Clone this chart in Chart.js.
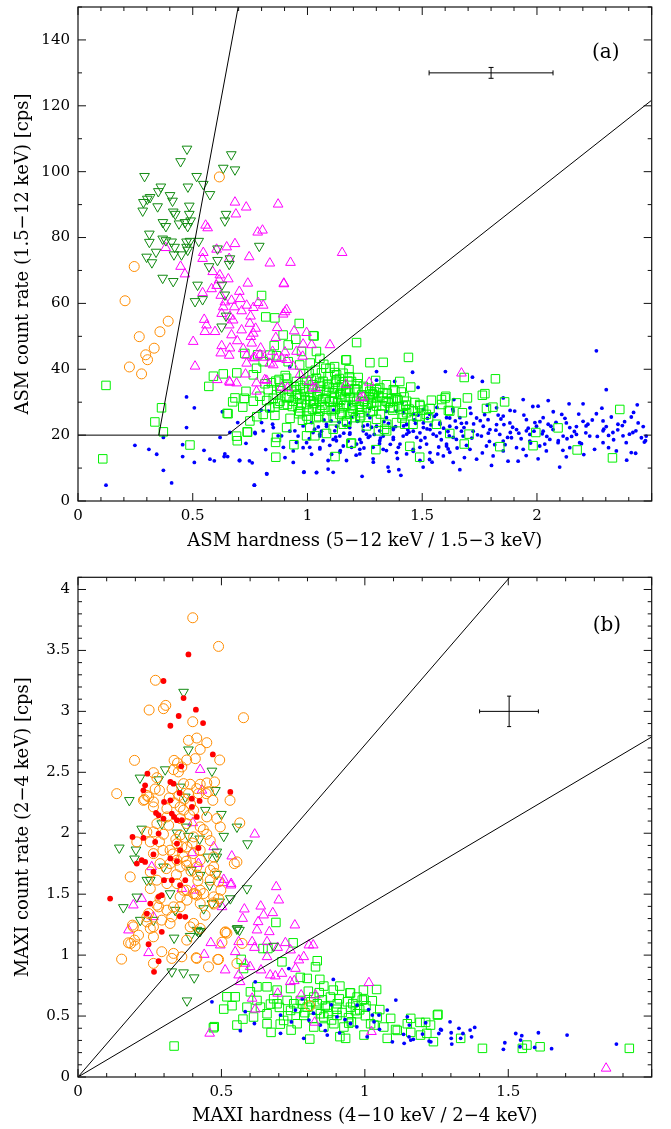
<!DOCTYPE html>
<html>
<head>
<meta charset="utf-8">
<script src="https://cdn.jsdelivr.net/npm/chart.js@4.4.1/dist/chart.umd.min.js"></script>
<style>
  html, body { margin: 0; padding: 0; background: #fff; }
  .panel { position: absolute; left: 0; width: 671px; }
  #wrapA { top: 0; height: 560px; }
  #wrapB { top: 560px; height: 569px; }
  canvas { display: block; }
</style>
</head>
<body>
<div class="panel" id="wrapA"><canvas id="asmChart" width="671" height="560"></canvas></div>
<div class="panel" id="wrapB"><canvas id="maxiChart" width="671" height="569"></canvas></div>
<script>
// ---- tick labels ----
const asmHardTicks = [0, 0.5, 1, 1.5, 2];
const asmRateTicks = [0, 20, 40, 60, 80, 100, 120, 140];
const maxiHardTicks = [0, 0.5, 1, 1.5];
const maxiRateTicks = [0, 0.5, 1, 1.5, 2, 2.5, 3, 3.5, 4];

// ---- panel (a): ASM, pairs of [hardness, rate] ----
const asmOrange = [0.245,71.2, 0.205,60.8, 0.267,49.9, 0.357,51.4, 0.393,54.6, 0.332,46.4, 0.295,44.4, 0.303,42.9, 0.224,40.7, 0.277,38.6, 0.616,98.4];

const asmDarkGreen = [0.475,106.9, 0.447,103.1, 0.668,105.2, 0.633,101.1, 0.684,100.6, 0.290,98.6, 0.517,98.6, 0.546,96.2, 0.479,95.4, 0.361,95.4,
  0.350,94.0, 0.575,93.1, 0.314,92.2, 0.302,91.7, 0.401,92.8, 0.412,91.1, 0.285,90.7, 0.282,88.1, 0.347,89.4, 0.485,89.6,
  0.415,87.8, 0.424,87.1, 0.485,87.1, 0.645,87.1, 0.640,85.1, 0.370,84.6, 0.383,83.4, 0.440,84.2, 0.466,84.6, 0.478,83.4,
  0.491,85.1, 0.311,81.1, 0.311,78.6, 0.369,79.6, 0.383,79.1, 0.408,78.7, 0.473,78.7, 0.488,78.9, 0.526,78.9, 0.421,77.1,
  0.473,77.1, 0.478,76.2, 0.340,75.6, 0.299,74.1, 0.322,72.4, 0.418,74.8, 0.451,74.8, 0.608,76.6, 0.608,73.1, 0.662,73.6,
  0.659,71.9, 0.790,77.4, 0.571,71.2, 0.369,67.7, 0.415,66.7, 0.521,65.6, 0.640,62.6, 0.627,65.6, 0.510,60.6, 0.543,61.2,
  0.645,56.2, 0.626,52.9];

const asmMagenta = [0.684,90.7, 0.872,90.1, 0.733,89.2, 0.688,87.1, 0.556,83.7, 0.565,82.9, 0.783,81.6, 0.804,82.2, 0.684,78.1, 0.382,76.9,
  0.604,76.4, 0.648,77.1, 0.546,75.4, 0.543,73.6, 0.746,74.1, 0.659,73.6, 0.836,72.2, 0.926,72.4, 0.447,71.2, 0.466,68.9,
  0.587,69.6, 0.618,68.6, 0.655,67.4, 0.615,67.1, 0.740,66.1, 0.897,66.1, 0.582,64.4, 0.604,65.4, 0.622,62.4, 0.543,63.2,
  0.703,63.6, 0.669,60.9, 0.706,61.4, 0.640,60.4, 0.785,60.2, 0.735,59.4, 0.633,58.9, 0.681,58.9, 0.764,58.7, 0.807,59.4,
  0.909,58.1, 0.894,56.7, 0.713,57.7, 0.626,56.9, 0.662,56.1, 0.752,56.1, 0.550,55.1, 0.676,54.9, 0.749,53.9, 0.560,53.4,
  0.659,53.4, 0.713,51.9, 0.774,52.4, 0.553,51.4, 0.597,51.4, 0.669,50.4, 0.764,50.9, 0.942,51.6, 0.996,51.1, 0.694,48.6,
  0.757,47.9, 0.502,48.4, 0.626,47.1, 0.662,46.4, 0.720,46.2, 0.796,46.4, 0.848,45.4, 0.622,44.9, 0.659,44.2, 0.735,44.2,
  0.771,43.6, 0.813,43.6, 0.981,47.6, 1.098,47.4, 0.510,40.9, 0.607,36.8, 0.659,36.3, 0.735,41.8, 0.851,41.3, 0.865,43.2,
  0.778,35.8, 0.814,36.8, 0.909,42.9, 0.938,40.9, 0.979,43.9, 1.018,47.4, 1.025,34.3, 0.897,65.9, 0.902,57.4, 0.952,45.4,
  0.902,45.2, 0.822,36.6, 0.662,36.0, 0.730,38.5, 0.691,35.8, 0.888,34.5, 0.913,34.3, 0.967,38.4, 1.007,36.3, 1.037,34.2,
  1.167,35.4, 1.269,36.0, 1.231,31.3, 1.243,31.5, 0.868,52.6, 0.862,49.6, 0.753,49.9, 0.793,44.4, 0.764,43.4, 0.778,33.3,
  0.887,43.4, 0.836,41.8, 1.671,38.8, 1.151,75.4];

const asmGreen = [0.964,53.9, 0.858,55.6, 0.894,50.4, 0.949,49.1, 1.029,50.1, 1.214,48.1, 1.170,42.9, 1.272,42.0, 1.330,42.1, 1.440,43.6,
  0.836,44.3, 0.727,44.8, 0.916,47.4, 0.974,45.4, 1.039,45.4, 1.054,43.3, 1.080,40.3, 1.119,39.0, 1.155,38.8, 1.221,37.5,
  1.297,36.6, 1.402,36.3, 1.450,34.6, 1.374,33.8, 1.409,33.1, 1.489,29.3, 1.540,30.6, 1.584,30.8, 1.603,31.8, 1.620,27.3,
  1.649,29.8, 1.562,23.3, 1.489,13.3, 1.446,16.6, 1.298,15.6, 1.120,13.5, 1.189,17.5, 1.032,19.8, 1.083,20.5, 0.996,19.8,
  0.941,17.1, 0.865,19.3, 0.862,13.3, 0.737,21.0, 0.694,18.3, 0.650,26.6, 0.674,30.1, 0.684,31.3, 0.718,28.5, 0.732,33.3,
  0.764,30.3, 0.779,25.6, 0.822,30.5, 0.858,26.0, 0.858,28.5, 0.909,22.3, 0.913,29.3, 0.959,28.3, 0.978,24.5, 1.007,27.3,
  1.054,30.3, 1.083,25.3, 1.141,26.3, 1.228,26.8, 1.301,28.8, 1.344,30.3, 1.374,28.3, 1.432,30.3, 1.432,26.8, 1.170,24.3,
  1.257,22.8, 1.336,21.8, 1.518,26.3, 1.460,23.3, 1.112,21.8, 1.010,22.3, 0.778,40.3, 0.807,42.3, 0.916,42.3, 0.966,41.3,
  1.007,38.8, 0.952,36.3, 0.909,37.3, 0.880,34.3, 0.931,33.3, 0.981,34.3, 1.024,35.3, 1.068,36.3, 1.112,34.3, 1.148,35.3,
  1.184,32.8, 1.214,33.8, 1.272,33.3, 1.315,34.3, 1.286,31.3, 1.214,30.3, 1.170,29.3, 1.112,30.3, 1.054,33.3, 1.010,31.8,
  0.966,31.3, 0.909,31.3, 0.865,32.3, 0.829,33.8, 0.793,31.8, 0.952,33.8, 0.996,36.3, 1.039,37.3, 1.090,37.8, 1.126,36.8,
  1.192,36.3, 1.243,34.8, 1.344,35.3, 1.301,33.8, 1.388,31.3, 1.417,28.8, 1.257,28.3, 1.199,27.3, 1.039,28.3, 0.996,29.3,
  0.938,30.3, 0.880,30.3, 0.836,28.3, 0.807,26.3, 0.749,24.3, 1.054,27.3, 1.112,28.3, 1.141,32.3, 1.083,33.3, 1.024,30.3,
  0.966,27.3, 1.039,25.3, 0.996,25.8,
  1.167,42.8, 1.683,37.5, 1.819,37.1, 1.182,37.7, 1.697,31.3, 1.762,32.1, 1.773,32.6, 1.859,30.1, 1.780,28.1, 1.808,28.5,
  1.600,31.3, 1.585,29.3, 1.614,27.5, 1.491,28.9, 1.534,28.1, 1.675,26.8, 1.491,25.8, 1.528,25.3, 1.620,20.5, 1.704,20.3,
  1.995,20.8, 2.092,22.2, 2.361,27.8, 2.329,13.1, 2.175,15.5, 1.983,16.8, 1.838,16.5, 1.683,17.3, 1.192,17.6, 1.301,24.8,
  1.345,23.3, 1.388,23.8, 1.424,23.3, 1.345,21.3, 1.309,21.3, 1.286,27.3, 1.359,28.3, 1.417,26.3, 1.461,27.3, 1.243,30.3,
  1.286,32.3, 1.330,31.3, 1.374,30.3, 1.170,33.3, 1.119,31.3, 1.141,28.3, 1.184,26.3, 1.228,25.3, 1.112,25.3, 1.156,23.3,
  1.098,40.3, 1.127,38.3, 1.156,35.3, 1.257,34.3,
  0.122,35.1, 0.108,12.8, 0.364,28.3, 0.335,24.0, 0.372,21.0, 0.488,17.0, 0.570,34.8, 0.654,26.5, 0.691,19.7, 0.739,20.9,
  0.800,62.4, 0.818,55.9, 1.025,50.2, 0.855,47.2, 0.865,44.1, 0.783,44.4, 0.692,38.9, 0.633,38.6, 0.590,37.9, 0.764,38.3,
  0.815,35.6, 0.725,31.2, 0.861,17.8,
  0.883,33.5, 0.912,35.2, 0.934,28.7, 0.951,31.9, 0.973,29.6, 0.987,33.1, 1.013,30.4, 1.022,27.9, 1.041,31.7, 1.052,35.8,
  1.063,29.1, 1.078,31.2, 1.093,34.6, 1.104,27.4, 1.117,32.8, 1.131,29.9, 1.139,37.2, 1.152,26.8, 1.163,31.5, 1.178,33.9,
  1.194,28.2, 1.203,30.9, 1.218,35.6, 1.232,25.9, 1.241,31.8, 1.262,29.4, 1.274,27.1, 1.283,32.6, 1.302,30.1, 1.318,26.4,
  1.329,32.9, 1.352,29.8, 1.371,27.6, 1.393,30.7, 1.412,25.2, 1.428,29.1, 0.983,38.6, 1.034,39.7, 0.903,38.1, 0.862,36.4,
  1.071,41.5, 1.122,36.1, 0.962,26.5, 1.004,24.8, 1.049,25.6, 1.171,23.9, 1.209,25.3, 0.924,25.1, 0.871,29.6, 0.843,35.9,
  0.957,32.4, 0.968,35.1, 0.991,30.8, 1.006,33.9, 1.017,36.7, 1.028,29.6, 1.046,32.3, 1.058,34.9, 1.067,31.1, 1.076,28.4,
  1.086,35.5, 1.097,30.2, 1.108,32.9, 1.121,27.8, 1.133,34.3, 1.145,30.6, 1.158,28.9, 1.166,33.6, 1.176,36.4, 1.187,31.4,
  1.198,29.1, 1.207,34.1, 1.226,28.7, 1.236,32.2, 1.248,30.1, 1.268,31.6, 1.279,29.7, 1.292,33.1, 1.311,31.9, 1.326,28.9,
  1.347,32.7, 1.366,31.1, 1.381,33.4, 1.398,28.6, 1.421,31.6, 1.443,27.9, 1.468,29.9, 1.476,25.6, 1.506,27.6, 0.942,34.7,
  0.921,31.5, 0.897,29.1, 0.876,36.9, 0.851,31.2, 1.012,41.9, 1.061,38.9, 1.118,40.8, 1.181,39.9];

const asmBlue = [0.122,4.8, 0.248,16.9, 0.309,15.7, 0.343,14.2, 0.372,19.3, 0.372,9.3, 0.408,5.5, 0.473,31.6, 0.473,22.3, 0.456,17.1,
  0.456,13.5, 0.507,28.3, 0.507,11.7, 0.549,15.4, 0.575,12.7, 0.594,12.2, 0.619,19.3, 0.629,27.1, 0.637,13.5, 0.652,13.5,
  0.662,20.8, 0.696,23.8, 0.703,12.3, 0.732,17.5, 0.747,12.2, 0.769,4.8, 0.772,20.5, 0.798,27.6, 0.818,15.6, 0.823,8.2,
  0.830,27.3, 0.848,23.3, 0.887,19.8, 0.895,16.3, 0.902,13.2, 0.938,15.2, 0.938,11.7, 0.945,21.3, 0.984,8.7, 0.996,17.7,
  1.018,14.2, 1.040,8.7, 1.054,16.2, 1.061,21.2, 1.090,9.7, 1.105,14.2, 1.112,8.7, 0.981,16.2, 0.959,19.7, 0.923,21.2,
  1.018,23.8, 1.054,19.7, 1.112,18.7, 1.083,22.7, 0.923,40.8,
  1.301,39.3, 1.458,39.1, 1.482,34.5, 1.380,36.3, 0.822,8.3, 0.768,4.8, 0.985,8.8, 1.039,8.6, 1.238,7.5, 1.407,7.8,
  1.351,10.3, 1.286,12.8, 1.228,14.3, 1.170,12.3, 1.090,12.3, 1.141,14.8, 1.054,15.8, 1.010,16.3, 0.952,17.8, 0.872,19.8,
  0.807,21.3, 0.771,20.8, 0.705,12.3, 0.759,11.6, 0.640,14.3, 0.800,23.8, 0.851,22.3, 0.981,22.8, 1.024,20.8, 1.068,18.3,
  1.126,18.3, 1.184,20.3, 1.214,17.3, 1.265,19.3, 1.315,18.3, 1.374,19.3, 1.403,17.3, 1.432,20.3, 1.476,19.3, 1.519,17.3,
  1.548,20.3, 1.606,17.3, 1.635,19.3, 1.649,22.3, 1.577,23.3, 1.505,22.3, 1.432,23.3, 1.374,22.3, 1.315,21.3, 1.243,21.3,
  1.184,22.3, 1.119,21.3, 1.083,23.3, 1.054,20.3, 1.272,25.3, 1.344,25.3, 1.461,26.3, 1.533,26.3, 1.606,25.3, 1.635,27.3,
  1.286,16.3, 1.344,15.3, 1.432,14.3, 1.490,12.3, 1.568,14.3, 1.620,14.8, 1.543,11.8, 1.192,16.3, 1.257,20.3, 1.490,16.3,
  1.504,10.3,
  2.259,45.6, 2.302,33.8, 2.437,29.2, 2.473,18.3, 1.719,37.6, 1.762,36.3, 1.638,30.8, 1.601,39.3, 1.301,36.7, 1.664,9.5,
  1.802,10.8, 1.874,12.1, 1.918,12.1, 2.099,10.3, 2.005,12.8, 2.128,13.4, 2.346,15.2, 2.411,14.7, 2.430,14.5, 1.355,9.0,
  1.398,9.5, 1.287,11.8,
  1.853,25.8, 1.903,27.3, 1.940,30.8, 2.005,28.8, 2.049,30.5, 2.140,29.5, 2.201,29.5, 2.259,26.5, 2.324,25.5, 2.411,25.5,
  2.108,26.3, 2.049,23.3, 2.143,22.3, 2.214,22.8, 2.288,21.3, 2.331,20.8, 2.375,19.8, 2.418,20.8, 2.114,19.7, 2.172,20.2,
  2.230,19.7, 2.027,21.2, 1.969,20.2, 1.911,21.7, 1.889,19.2, 1.838,20.2, 1.795,21.7, 1.758,19.7, 1.722,21.2, 1.693,23.7,
  1.737,25.2, 1.787,24.7, 1.824,23.2, 1.882,23.7, 1.954,24.7, 1.998,22.7, 2.070,21.7, 2.092,17.7, 2.012,16.7, 1.940,15.7,
  1.853,15.2, 1.780,16.7, 1.708,15.7, 1.649,18.7, 1.606,16.7, 1.562,19.7, 1.534,21.7, 1.577,23.7, 1.620,25.2, 1.505,23.7,
  1.461,21.2, 1.417,19.7, 1.374,18.7, 1.330,19.7, 1.272,19.7, 1.228,18.7, 1.185,20.7, 1.141,19.7, 1.156,16.7, 1.228,15.7,
  1.330,15.7, 1.388,14.7, 1.461,15.7, 1.534,14.7, 1.592,13.7, 1.635,11.7, 1.737,12.7, 1.809,13.7, 1.911,16.2, 2.041,15.2,
  2.186,17.7, 2.288,17.7, 2.251,15.7, 2.143,16.2, 1.969,18.2, 2.056,18.7, 2.201,24.2, 2.128,23.7, 2.353,23.3, 2.455,19.2,
  2.476,19.7, 2.389,17.7, 1.708,28.3, 1.664,25.3, 1.853,31.3, 1.824,28.3, 2.027,25.3, 1.954,21.3, 2.288,24.3, 1.185,23.7,
  1.243,22.7, 1.301,22.7, 1.374,21.7, 1.432,23.2, 1.490,20.7, 1.577,20.7, 1.620,22.7, 1.678,19.7, 1.766,22.7, 1.853,18.2,
  1.127,22.7, 1.214,26.3, 1.388,27.3, 1.505,27.8, 1.562,26.3,
  1.031,21.8, 1.072,24.6, 1.123,19.4, 1.164,22.9, 1.192,25.4, 1.234,17.8, 1.262,23.1, 1.291,20.2, 1.333,24.1, 1.361,17.2,
  1.384,22.6, 1.418,26.8, 1.442,20.9, 1.471,23.6, 1.494,18.4, 1.521,21.9, 1.553,25.7, 1.572,16.4, 1.593,22.1, 1.618,19.8,
  1.644,24.3, 1.671,21.2, 1.693,16.9, 1.724,23.4, 1.741,20.1, 1.772,26.2, 1.793,18.1, 1.821,21.5, 1.843,24.9, 1.872,19.3,
  1.894,22.4, 1.921,20.6, 1.943,26.1, 1.972,17.6, 1.991,23.8, 2.023,20.4, 2.061,22.7, 2.093,18.3, 2.122,25.1, 2.163,21.1,
  2.194,17.4, 2.222,23.3, 2.263,19.6, 2.291,21.8, 2.334,18.6, 2.372,22.9, 2.403,20.3, 2.441,23.7, 2.468,17.9, 1.143,15.3,
  1.212,13.9, 1.314,17.4, 1.392,12.9, 1.461,15.1, 1.532,12.6, 1.613,15.8, 1.684,13.2, 1.762,14.6, 1.861,17.1, 1.953,13.8,
  2.034,17.3, 2.113,15.4, 2.204,14.1, 2.312,16.2, 2.391,12.4, 1.114,27.6, 1.182,29.4, 1.271,28.1, 1.343,27.2, 1.412,29.8,
  1.482,26.1, 1.564,28.4, 1.633,27.9, 1.712,26.6, 1.784,29.1, 1.883,27.5, 1.982,28.7, 2.071,27.1, 2.182,26.4, 2.283,28.2,
  2.421,26.9,
  1.008,18.9, 1.047,22.5, 1.097,16.9, 1.138,23.9, 1.177,18.2, 1.218,24.2, 1.246,16.1, 1.279,22.4, 1.318,19.1, 1.353,23.6,
  1.396,16.3, 1.437,21.6, 1.466,24.6, 1.512,19.2, 1.538,23.1, 1.583,18.6, 1.612,21.1, 1.652,16.1, 1.682,22.3, 1.716,19.1,
  1.753,24.4, 1.788,20.6, 1.816,17.1, 1.856,23.2, 1.884,20.8, 1.931,18.9, 1.962,22.1, 2.013,24.1, 2.043,19.6, 2.083,23.9,
  2.131,18.9, 2.172,22.6, 2.213,20.7, 2.241,24.6, 2.302,22.6, 2.352,21.6, 2.382,24.1, 2.431,21.3, 2.463,22.6, 1.103,24.3,
  1.158,20.6, 1.263,26.1, 1.419,22.8, 1.523,25.1, 1.671,23.6, 1.831,26.1, 1.987,21.2, 2.151,19.6, 2.312,19.9];

// boundary lines and error bar of panel (a)
const asmLowLine = [0,20, 0.65,20, 2.5,121.7];
const asmSteepLine = [0.352,20, 0.698,150];
const asmErrX = [1.53,130, 2.07,130];
const asmErrY = [1.80,128.35, 1.80,131.65];

// ---- panel (b): MAXI ----
const maxiOrange = [0.400,3.768, 0.490,3.533, 0.270,3.255, 0.248,3.011, 0.298,3.022, 0.306,3.049, 0.400,2.915, 0.577,2.948, 0.197,2.598, 0.385,2.762,
  0.414,2.781, 0.449,2.743, 0.426,2.688, 0.335,2.598, 0.347,2.576, 0.379,2.601, 0.409,2.612, 0.494,2.601, 0.263,2.497, 0.275,2.456,
  0.333,2.522, 0.362,2.544, 0.135,2.325, 0.232,2.276, 0.240,2.311, 0.269,2.363, 0.284,2.352, 0.328,2.366, 0.368,2.407, 0.391,2.402,
  0.426,2.402, 0.449,2.413, 0.476,2.421, 0.455,2.341, 0.420,2.325, 0.385,2.325, 0.470,2.270, 0.530,2.270, 0.263,2.216, 0.310,2.202,
  0.356,2.216, 0.403,2.189, 0.449,2.134, 0.484,2.120, 0.564,2.085, 0.275,2.079, 0.316,2.066, 0.379,2.079, 0.426,2.052, 0.496,2.052,
  0.240,2.011, 0.298,1.992, 0.356,1.984, 0.403,1.970, 0.449,1.992, 0.205,1.929, 0.246,2.298, 0.350,2.503, 0.414,2.366, 0.447,2.325,
  0.263,2.257, 0.228,2.270, 0.310,2.134, 0.368,2.189, 0.182,1.642, 0.263,2.011, 0.252,1.929, 0.263,1.833, 0.286,1.751, 0.321,1.861,
  0.345,1.915, 0.380,1.888, 0.403,1.833, 0.368,1.806, 0.426,1.861, 0.321,1.751, 0.356,1.724, 0.414,1.724, 0.252,1.683, 0.275,1.615,
  0.310,1.587, 0.252,1.546, 0.286,1.464, 0.345,1.587, 0.368,1.532, 0.380,1.451, 0.414,1.492, 0.356,1.396, 0.281,1.396, 0.240,1.314,
  0.327,1.314, 0.391,1.232, 0.263,1.232, 0.193,1.232, 0.211,1.164, 0.184,1.096, 0.461,1.697, 0.490,1.601, 0.473,1.806, 0.514,1.191,
  0.554,1.765, 0.152,0.967, 0.190,1.246, 0.197,1.123, 0.199,1.074, 0.176,1.101, 0.240,1.273, 0.252,1.219, 0.263,1.150, 0.246,1.341,
  0.275,1.410, 0.292,1.287, 0.310,1.369, 0.321,1.260, 0.327,0.973, 0.333,1.014, 0.362,0.986, 0.379,1.123, 0.403,1.260, 0.426,1.219,
  0.414,0.973, 0.455,0.904, 0.490,0.965, 0.502,1.106, 0.519,1.180, 0.263,0.932, 0.292,1.028, 0.473,1.419, 0.438,1.505, 0.356,1.478,
  0.379,1.533, 0.403,1.505, 0.426,1.533, 0.473,1.478, 0.490,1.464, 0.333,1.396, 0.345,1.779, 0.379,1.738, 0.426,1.779, 0.473,1.724,
  0.478,1.670, 0.545,1.751, 0.513,1.186, 0.487,0.964, 0.412,0.979, 0.572,1.096, 0.554,0.932, 0.808,0.585, 0.498,1.533, 0.472,1.429,
  0.417,1.656, 0.461,1.615, 0.409,1.503, 0.426,1.423, 0.443,1.328, 0.352,2.31, 0.371,2.28, 0.392,2.24, 0.336,2.25, 0.318,2.29,
  0.357,2.12, 0.389,2.15, 0.341,1.95, 0.362,1.89, 0.398,1.92, 0.331,1.83, 0.377,1.77, 0.394,1.69, 0.343,1.66, 0.308,1.71,
  0.418,1.61, 0.296,1.86, 0.284,1.93, 0.437,2.03, 0.461,1.94];

const maxiRed = [0.385,3.467, 0.298,3.249, 0.368,3.109, 0.411,3.014, 0.351,2.962, 0.436,2.904, 0.322,2.882, 0.470,2.647, 0.360,2.549, 0.242,2.489,
  0.228,2.352, 0.234,2.393, 0.322,2.421, 0.333,2.407, 0.300,2.257, 0.531,2.339, 0.354,2.330, 0.322,2.270, 0.397,2.284, 0.424,2.265,
  0.272,2.167, 0.281,2.148, 0.327,2.161, 0.335,2.134, 0.345,2.107, 0.362,2.107, 0.298,2.120, 0.414,2.134, 0.397,2.216, 0.190,1.970,
  0.228,1.962, 0.281,1.997, 0.269,1.929, 0.345,1.915, 0.420,1.879, 0.356,1.861, 0.322,1.793, 0.345,1.771, 0.205,1.751, 0.222,1.779,
  0.234,1.765, 0.263,1.683, 0.327,1.615, 0.356,1.574, 0.374,1.615, 0.292,1.492, 0.281,1.478, 0.252,1.423, 0.240,1.341, 0.374,1.314,
  0.292,1.191, 0.246,1.090, 0.112,1.464, 0.263,1.826, 0.281,0.950, 0.265,0.863, 0.355,1.319, 0.300,1.615];

const maxiDarkGreen = [0.368,3.158, 0.385,2.685, 0.467,2.511, 0.304,2.522, 0.216,2.454, 0.281,2.440, 0.179,2.270, 0.479,2.352, 0.356,2.380, 0.374,2.298,
  0.444,2.189, 0.500,2.156, 0.554,2.052, 0.508,1.976, 0.144,1.880, 0.222,2.035, 0.202,1.864, 0.197,1.790, 0.591,1.915, 0.484,1.847,
  0.484,1.806, 0.452,1.806, 0.385,1.976, 0.424,1.954, 0.345,2.003, 0.292,2.079, 0.377,2.052, 0.484,1.664, 0.459,1.574, 0.589,1.546,
  0.494,1.437, 0.467,1.423, 0.438,1.382, 0.531,1.464, 0.554,1.215, 0.426,1.196, 0.391,1.155, 0.335,1.141, 0.158,1.391, 0.205,1.478,
  0.252,1.615, 0.321,1.505, 0.339,1.369, 0.263,1.287, 0.217,1.287, 0.395,1.697, 0.426,1.656, 0.298,1.724, 0.240,1.615, 0.327,0.864,
  0.368,0.856, 0.405,0.815, 0.380,0.626, 0.556,1.219, 0.682,1.074, 0.414,1.205, 0.563,1.205, 0.420,1.190];

const maxiMagenta = [0.691,1.560, 0.700,1.451, 0.756,1.246, 0.637,1.401, 0.580,1.377, 0.574,1.300, 0.647,1.328, 0.679,1.347, 0.628,1.273, 0.624,1.205,
  0.667,1.191, 0.533,1.574, 0.504,1.593, 0.502,1.396, 0.463,1.101, 0.496,1.082, 0.440,1.005, 0.513,0.877, 0.548,1.027, 0.560,1.109,
  0.607,1.109, 0.615,1.062, 0.659,1.109, 0.696,1.062, 0.723,1.101, 0.741,1.041, 0.787,0.986, 0.805,1.082, 0.820,1.082, 0.770,0.959,
  0.758,0.890, 0.659,0.986, 0.583,0.932, 0.600,0.904, 0.638,0.877, 0.670,0.836, 0.711,0.849, 0.740,0.781, 0.754,0.789, 0.560,0.836,
  0.565,0.781, 0.688,0.828, 0.696,0.686, 0.778,0.672, 0.828,0.672, 1.014,0.773, 0.607,0.645, 0.618,0.556, 0.825,0.448, 1.023,0.372,
  0.459,0.358, 0.193,1.410, 0.176,1.205, 0.246,1.019, 0.263,1.314, 0.362,1.546, 0.426,2.522, 0.400,2.085, 0.616,1.992, 0.473,1.888,
  0.432,2.352, 0.536,1.812, 0.508,1.620, 0.534,1.587, 0.397,1.839, 0.420,1.751, 0.403,1.532, 0.257,1.724, 0.222,1.464, 1.841,0.071];

const maxiGreen = [0.690,1.268, 0.750,1.101, 0.834,0.954, 0.828,0.904, 0.569,0.965, 0.645,1.054, 0.662,1.054, 0.711,0.945, 0.577,0.890, 0.799,0.809,
  0.775,0.817, 0.843,0.801, 0.857,0.746, 0.890,0.713, 0.913,0.746, 0.948,0.691, 0.995,0.713, 1.041,0.718, 0.939,0.617, 0.997,0.637,
  1.026,0.626, 0.519,0.658, 0.548,0.658, 0.508,0.557, 0.537,0.585, 0.475,0.413, 0.575,0.475, 0.554,0.426, 0.673,0.366, 0.705,0.434,
  0.743,0.385, 0.808,0.311, 0.933,0.317, 0.913,0.331, 1.078,0.317, 0.997,0.344, 1.160,0.481, 1.192,0.448, 1.212,0.448, 1.255,0.514,
  1.216,0.358, 1.239,0.290, 1.160,0.366, 1.090,0.481, 1.043,0.492, 0.973,0.519, 0.903,0.505, 0.857,0.492, 0.787,0.505, 0.741,0.546,
  0.717,0.464, 0.659,0.519, 0.612,0.492, 0.636,0.573, 0.694,0.601, 0.752,0.601, 0.799,0.573, 0.834,0.601, 0.869,0.573, 0.904,0.601,
  0.950,0.573, 0.973,0.656, 0.880,0.656, 0.822,0.656, 0.775,0.628, 0.729,0.628, 0.682,0.642, 0.624,0.628, 0.589,0.573, 0.659,0.437,
  0.764,0.437, 0.822,0.410, 0.857,0.410, 0.892,0.437, 0.927,0.410, 1.020,0.437, 1.066,0.410, 1.113,0.382, 1.148,0.437, 0.845,0.519,
  0.741,0.726, 0.694,0.713, 0.659,0.740, 0.624,0.740, 0.601,0.699, 1.922,0.235, 1.611,0.248, 1.565,0.262, 1.549,0.235, 1.410,0.235,
  1.334,0.317, 1.253,0.508, 1.229,0.426, 1.194,0.344, 1.107,0.390, 0.950,0.689, 0.991,0.631, 0.967,0.544, 1.002,0.503, 0.944,0.442,
  1.032,0.426, 0.335,0.254, 0.472,0.404, 0.763,0.562, 0.791,0.528, 0.812,0.617, 0.833,0.548, 0.852,0.633, 0.871,0.521, 0.884,0.468,
  0.902,0.556, 0.921,0.529, 0.943,0.487, 0.958,0.602, 0.982,0.551, 0.818,0.482, 0.784,0.598, 0.862,0.583, 0.911,0.641, 0.731,0.502,
  0.702,0.571, 0.671,0.598, 0.953,0.453, 1.004,0.584, 1.052,0.553, 0.841,0.692, 0.803,0.704];

const maxiBlue = [0.467,0.617, 0.566,0.380, 0.583,0.536, 0.618,0.781, 0.735,0.890, 0.890,0.801, 1.108,0.631, 1.137,0.276, 1.160,0.303, 1.154,0.330,
  1.096,0.289, 1.026,0.508, 1.078,0.549, 1.148,0.494, 1.212,0.445, 1.264,0.390, 1.230,0.289, 0.787,0.317, 0.706,0.358, 0.869,0.344,
  0.615,0.439, 0.706,0.508, 0.758,0.549, 0.805,0.467, 0.845,0.426, 0.903,0.494, 0.950,0.439, 0.973,0.590, 1.135,0.350, 1.169,0.309,
  1.201,0.352, 1.224,0.295, 1.258,0.357, 1.297,0.453, 1.301,0.363, 1.301,0.317, 1.303,0.270, 1.328,0.399, 1.342,0.357, 1.367,0.385,
  1.383,0.407, 1.372,0.330, 1.334,0.317, 1.488,0.281, 1.483,0.227, 1.526,0.357, 1.543,0.303, 1.547,0.339, 1.541,0.248, 1.592,0.243,
  1.605,0.363, 1.651,0.232, 1.705,0.344, 1.877,0.270, 1.049,0.508, 1.032,0.453, 1.008,0.330, 1.267,0.385, 1.155,0.426, 0.821,0.523,
  0.883,0.592, 0.931,0.471, 0.972,0.412, 1.013,0.553, 0.862,0.381, 0.782,0.641, 0.912,0.362, 1.051,0.391, 0.744,0.452];

const maxiSteepLine = [0,0, 1.505,4.1];
const maxiShallowLine = [0,0, 2.0,2.79];
const maxiErrX = [1.40,3.0, 1.605,3.0];
const maxiErrY = [1.503,2.875, 1.503,3.125];

// ---------------------------------------------------------------
function pts(flat) {
  const out = [];
  for (let i = 0; i < flat.length; i += 2) out.push({ x: flat[i], y: flat[i + 1] });
  return out;
}

const tickFont = { family: 'DejaVu Serif', size: 15 };
const titleFont = { family: 'DejaVu Serif', size: 18 };

const styles = {
  blue: { pointStyle: 'circle', pointRadius: 1.9, pointBackgroundColor: '#0000ff', pointBorderWidth: 0 },
  red: { pointStyle: 'circle', pointRadius: 2.9, pointBackgroundColor: '#ff0000', pointBorderWidth: 0 },
  green: { pointStyle: 'rect', pointRadius: 6, pointBackgroundColor: 'rgba(0,0,0,0)', pointBorderColor: '#00f000', pointBorderWidth: 1 },
  magenta: { pointStyle: 'triangle', pointRadius: 5.6, pointBackgroundColor: 'rgba(0,0,0,0)', pointBorderColor: '#ff00ff', pointBorderWidth: 1 },
  darkGreen: { pointStyle: 'triangle', pointRotation: 180, pointRadius: 5.6, pointBackgroundColor: 'rgba(0,0,0,0)', pointBorderColor: '#118a11', pointBorderWidth: 1 },
  orange: { pointStyle: 'circle', pointRadius: 5, pointBackgroundColor: 'rgba(0,0,0,0)', pointBorderColor: '#ff8c00', pointBorderWidth: 1 },
};

const points = (flat, style) => Object.assign({ data: pts(flat), showLine: false }, style);
const line = (flat) => ({ data: pts(flat), showLine: true, borderColor: '#000', borderWidth: 1, pointRadius: 0, tension: 0 });
const errBar = (flat, rot, r) => ({
  data: pts(flat), showLine: true, borderColor: '#000', borderWidth: 1,
  pointStyle: 'line', pointRotation: rot, pointRadius: r, pointBorderColor: '#000', pointBorderWidth: 1,
});

// frame with inward ticks on all four sides, plus the panel tag
const framePlugin = {
  id: 'frame',
  afterDatasetsDraw(chart, args, o) {
    const { ctx, chartArea: a, scales: { x, y } } = chart;
    ctx.save();
    ctx.strokeStyle = '#111';
    ctx.lineWidth = 1.2;
    ctx.strokeRect(a.left, a.top, a.right - a.left, a.bottom - a.top);
    ctx.lineWidth = 1;
    ctx.beginPath();
    const isMajor = (v, m) => Math.abs(v / m - Math.round(v / m)) < 1e-6;
    for (let i = 0; i * o.xStep <= x.max + 1e-9; i++) {
      const v = i * o.xStep;
      const p = x.getPixelForValue(v);
      const len = isMajor(v, o.xMajor) ? 8 : 4;
      ctx.moveTo(p, a.bottom); ctx.lineTo(p, a.bottom - len);
      ctx.moveTo(p, a.top); ctx.lineTo(p, a.top + len);
    }
    for (let i = 0; i * o.yStep <= y.max + 1e-9; i++) {
      const v = i * o.yStep;
      const p = y.getPixelForValue(v);
      const len = isMajor(v, o.yMajor) ? 8 : 4;
      ctx.moveTo(a.left, p); ctx.lineTo(a.left + len, p);
      ctx.moveTo(a.right, p); ctx.lineTo(a.right - len, p);
    }
    ctx.stroke();
    ctx.fillStyle = '#000';
    ctx.font = '20px "DejaVu Serif"';
    ctx.textAlign = 'center';
    ctx.textBaseline = 'middle';
    ctx.fillText(o.tag, x.getPixelForValue(o.tagX), y.getPixelForValue(o.tagY));
    ctx.restore();
  }
};

function makeChart(id, cfg) {
  return new Chart(document.getElementById(id), {
    type: 'scatter',
    data: { datasets: cfg.datasets },
    options: {
      responsive: false,
      devicePixelRatio: 1,
      animation: false,
      events: [],
      layout: { padding: cfg.padding },
      plugins: { legend: { display: false }, tooltip: { enabled: false }, frame: cfg.frame },
      scales: {
        x: {
          type: 'linear', min: cfg.xMin, max: cfg.xMax,
          afterBuildTicks: (s) => { s.ticks = cfg.xTicks.map((v) => ({ value: v })); },
          afterFit: (s) => { s.height = cfg.xHeight; s.paddingLeft = 0; s.paddingRight = 0; },
          grid: { display: false, drawTicks: false },
          border: { display: false },
          ticks: { padding: cfg.xTickPad, color: '#000', font: tickFont, maxRotation: 0, autoSkip: false, callback: (v) => String(v) },
          title: { display: true, text: cfg.xTitle, color: '#000', font: titleFont, padding: { top: 0, bottom: cfg.xTitlePad } },
        },
        y: {
          type: 'linear', min: cfg.yMin, max: cfg.yMax,
          afterBuildTicks: (s) => { s.ticks = cfg.yTicks.map((v) => ({ value: v })); },
          afterFit: (s) => { s.width = 78; s.paddingTop = 0; s.paddingBottom = 0; },
          grid: { display: false, drawTicks: false },
          border: { display: false },
          ticks: { padding: 8, color: '#000', font: tickFont, autoSkip: false, callback: (v) => String(v) },
          title: { display: true, text: cfg.yTitle, color: '#000', font: titleFont, padding: { top: 13, bottom: 0 } },
        },
      },
    },
    plugins: [framePlugin],
  });
}

makeChart('asmChart', {
  datasets: [
    line(asmLowLine), line(asmSteepLine),
    errBar(asmErrX, 90, 2.5), errBar(asmErrY, 0, 2.5),
    points(asmOrange, styles.orange),
    points(asmDarkGreen, styles.darkGreen),
    points(asmMagenta, styles.magenta),
    points(asmGreen, styles.green),
    points(asmBlue, styles.blue),
  ],
  padding: { top: 2, right: 19.3, bottom: 0, left: 0 },
  xMin: 0, xMax: 2.5, yMin: 0, yMax: 150,
  xTicks: asmHardTicks, yTicks: asmRateTicks,
  xHeight: 59, xTickPad: 6.5, xTitlePad: 8,
  xTitle: 'ASM hardness (5\u221212 keV / 1.5\u22123 keV)',
  yTitle: 'ASM count rate (1.5\u221212 keV) [cps]',
  frame: { xStep: 0.1, xMajor: 0.5, yStep: 10, yMajor: 20, tag: '(a)', tagX: 2.30, tagY: 136 },
});

makeChart('maxiChart', {
  datasets: [
    line(maxiSteepLine), line(maxiShallowLine),
    errBar(maxiErrX, 90, 2), errBar(maxiErrY, 0, 2),
    points(maxiRed, styles.red),
    points(maxiOrange, styles.orange),
    points(maxiDarkGreen, styles.darkGreen),
    points(maxiMagenta, styles.magenta),
    points(maxiBlue, styles.blue),
    points(maxiGreen, styles.green),
  ],
  padding: { top: 17.3, right: 19.3, bottom: 0, left: 0 },
  xMin: 0, xMax: 2.0, yMin: 0, yMax: 4.1,
  xTicks: maxiHardTicks, yTicks: maxiRateTicks,
  xHeight: 52, xTickPad: 5.7, xTitlePad: 1.5,
  xTitle: 'MAXI hardness (4\u221210 keV / 2\u22124 keV)',
  yTitle: 'MAXI count rate (2\u22124 keV) [cps]',
  frame: { xStep: 0.1, xMajor: 0.5, yStep: 0.1, yMajor: 0.5, tag: '(b)', tagX: 1.844, tagY: 3.705 },
});
</script>
</body>
</html>
